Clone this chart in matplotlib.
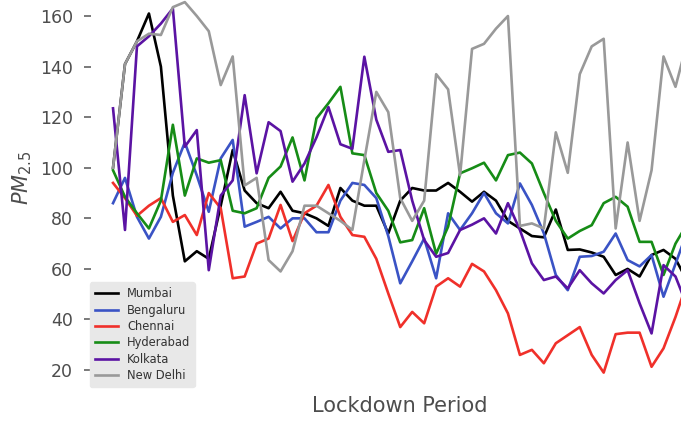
import numpy as np
import matplotlib
matplotlib.use("Agg")
import matplotlib.pyplot as plt

# daily PM2.5 through the lockdown, one list per city
mumbai = [100, 141, 150, 161, 140, 89, 63, 67, 64, 85, 107, 91, 86, 84, 90.5, 83, 82, 80, 77, 92,
          87, 85, 85, 74, 87, 92, 91, 91, 94, 90.5, 86.6, 90.5, 87, 79, 76, 73, 72.5, 83.5, 67.5, 67.7,
          66.5, 64.8, 57.6, 60, 57, 65.5, 67.5, 64, 55]
bengaluru = [86, 96, 80.6, 72, 80.6, 98, 110, 97, 82.6, 103.7, 111, 76.7, 78.6, 80.6, 76, 80, 80, 74.5, 74.5, 87,
             94, 93.2, 88, 73, 54.3, 63, 72, 56.3, 82, 75.4, 82, 90, 82, 78, 93.8, 85.3, 74.1, 57.6, 51.6, 64.8,
             65.1, 66.8, 74, 63.5, 61, 65.5, 49, 62, 75]
chennai = [94, 88, 81, 85, 88, 78.6, 81.3, 73.4, 90, 84, 56.3, 57, 70, 72, 85.3, 71, 82, 85, 93.2, 80.6,
           73.4, 72.7, 64, 50.3, 37, 43, 38.5, 53, 56.3, 53, 62, 59, 51.6, 42.4, 26, 28, 22.7, 30.6, 33.8, 37,
           26, 19, 34.2, 34.8, 34.8, 21.3, 28.6, 41, 55]
hyderabad = [99, 88.5, 82, 76, 87, 117, 89, 103.7, 102, 103, 83, 82, 84, 96, 100.5, 112, 95, 119.5, 125.5, 132,
             105.7, 105, 90, 83, 70.5, 71.4, 84, 66, 76.7, 97.8, 99.8, 102, 95, 105, 106, 101.7, 90, 79, 72, 75,
             77.3, 86, 88.5, 84.6, 70.7, 70.7, 57.6, 70, 78]
kolkata = [123.5, 75.4, 148, 152, 157, 163, 108.3, 114.9, 59.5, 89, 95, 128.7, 97.8, 118, 114.5, 94.5, 101.7, 112, 124, 109.3,
           107.5, 143.9, 119, 106.3, 107, 87, 71.4, 64.8, 66.3, 75.4, 77.5, 80, 74, 86, 75.4, 62.2, 55.6, 57, 52.3, 59.5,
           54.3, 50.3, 55.6, 59.5, 46.4, 34.5, 61.5, 57, 45]
new_delhi = [100, 141, 150, 153, 152.5, 163.5, 165.5, 160, 154, 132.7, 144, 93, 96, 63.5, 59, 67, 85, 85, 82, 79,
             75.4, 103, 130, 122, 88, 79, 87, 137, 131, 97, 147, 149, 155, 160, 77, 78, 76, 114, 98, 137,
             148, 151, 76, 110, 79, 99, 144, 132, 150]

cities = ["Mumbai", "Bengaluru", "Chennai", "Hyderabad", "Kolkata", "New Delhi"]
colors = ["black", "#3a53c5", "#f0302a", "#168c16", "#5b13a3", "#999999"]
series = [mumbai, bengaluru, chennai, hyderabad, kolkata, new_delhi]

W, H = 681, 422
fig = plt.figure(figsize=(W / 100, H / 100), dpi=100)
ax = fig.add_axes([91 / W, (H - 385) / H, 618 / W, 414 / H])

days = np.arange(len(mumbai))
for name, vals, c in zip(cities, series, colors):
    ax.plot(days, vals, color=c, lw=1.9, label=name)

ax.set_xlim(-1.84, 49.8)
ax.set_ylim(14.1, 177.8)
ax.set_yticks([20, 40, 60, 80, 100, 120, 140, 160])
ax.set_xticks([])
for s in ax.spines.values():
    s.set_visible(False)

txt = "#4d4d4d"
ax.tick_params(axis="y", colors="#555555", labelcolor=txt, labelsize=12.5,
               length=5, width=1.1, pad=8)
ax.set_ylabel(r"$PM_{2.5}$", fontsize=15, color=txt, labelpad=4)
ax.set_xlabel("Lockdown Period", fontsize=15, color=txt, labelpad=8)

leg = ax.legend(loc="lower left", bbox_to_anchor=(90 / W, (H - 387) / H),
                bbox_transform=fig.transFigure, borderaxespad=0,
                fontsize=8.3, labelspacing=0.3, handlelength=2.0,
                frameon=True, fancybox=True, facecolor="#e8e8e8",
                edgecolor="#e8e8e8", framealpha=1)
for t in leg.get_texts():
    t.set_color("#333333")

fig.savefig("out.png", dpi=100)
